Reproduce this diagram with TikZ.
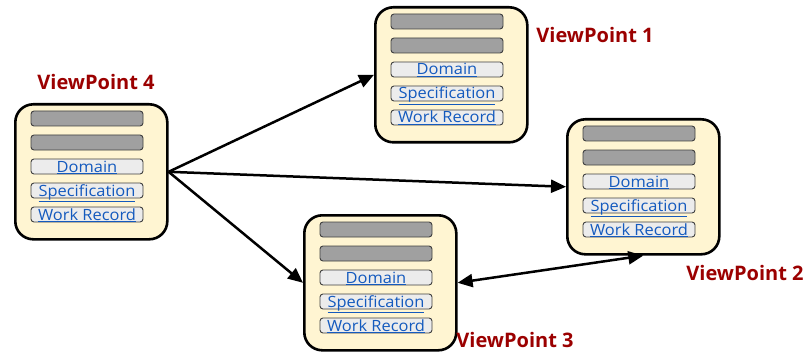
\documentclass[tikz,border=0pt]{standalone}
\usepackage{fontspec}
\setmainfont{Open Sans}
\usetikzlibrary{arrows.meta}
\definecolor{vpfill}{RGB}{255,245,210}
\definecolor{bardark}{RGB}{160,160,160}
\definecolor{barlight}{RGB}{236,236,236}
\definecolor{bartext}{RGB}{20,90,190}
\definecolor{vplabel}{RGB}{155,0,0}
\tikzset{
  vpbox/.style={draw=black, line width=2.6pt, fill=vpfill, rounded corners=18pt,
    minimum width=152pt, minimum height=135pt, inner sep=0pt, anchor=north west},
  darkbar/.style={draw=black!75, line width=0.9pt, fill=bardark, rounded corners=3pt,
    minimum width=112pt, minimum height=15pt, inner sep=0pt},
  lightbar/.style={darkbar, fill=barlight, text=bartext, text height=12pt, text depth=1pt,
    font=\fontsize{15.5}{16}\selectfont},
  vplab/.style={text=vplabel, font=\fontsize{20}{22}\selectfont\bfseries},
  arr/.style={line width=2.5pt, -{Triangle[length=15pt,width=13pt]}},
  darr/.style={line width=2.5pt, {Triangle[length=15pt,width=13pt]}-{Triangle[length=15pt,width=13pt]}}
}
\newcommand\vpitem[1]{\scalebox{1.06}[1]{\underline{#1}}}
% one viewpoint: name, left edge, top edge
\newcommand\viewpointbox[3]{%
  \node[vpbox] (#1) at (#2,#3) {};
  \node[darkbar]  (#1-b1) at ([xshift=73pt,yshift=-15.5pt]#1.north west) {};
  \node[darkbar]  (#1-b2) at ([xshift=73pt,yshift=-39.5pt]#1.north west) {};
  \node[lightbar] (#1-b3) at ([xshift=73pt,yshift=-63.5pt]#1.north west) {\vpitem{Domain}};
  \node[lightbar] (#1-b4) at ([xshift=73pt,yshift=-87.5pt]#1.north west) {\vpitem{Specification}};
  \node[lightbar] (#1-b5) at ([xshift=73pt,yshift=-111.5pt]#1.north west) {\vpitem{Work Record}};
}
\begin{document}
\begin{tikzpicture}[x=1pt,y=-1pt]
\useasboundingbox (0,0) rectangle (807,353);
\viewpointbox{vp4}{14}{103}
\viewpointbox{vp1}{374}{6}
\viewpointbox{vp2}{566}{118}
\viewpointbox{vp3}{303}{214}

\node[vplab] (l4) at (96,82) {ViewPoint 4};
\node[vplab] (l1) at (595,35) {ViewPoint 1};
\node[vplab] (l2) at (745,273) {ViewPoint 2};
\node[vplab] (l3) at (515,340) {ViewPoint 3};

\draw[arr] (vp4.east) -- (vp1.west);
\draw[arr] (vp4.east) -- (vp2.west);
\draw[arr] (vp4.east) -- (vp3.west);
\draw[darr] (vp3.east) -- (vp2.south);
\end{tikzpicture}
\end{document}
